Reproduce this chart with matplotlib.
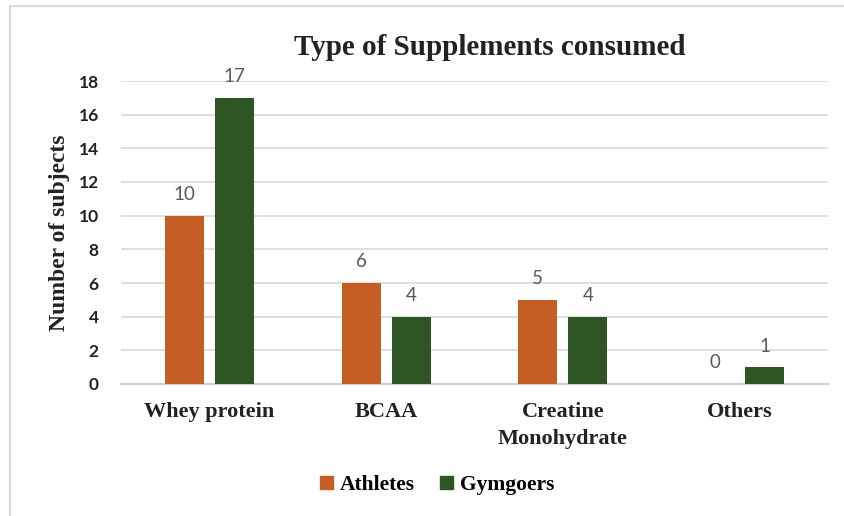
import matplotlib.pyplot as plt
from matplotlib.patches import Rectangle, Patch
import numpy as np

# data
categories = ['Whey protein', 'BCAA', 'Creatine\nMonohydrate', 'Others']
athletes = [10, 6, 5, 0]
gymgoers = [17, 4, 4, 1]
y_ticks = [0, 2, 4, 6, 8, 10, 12, 14, 16, 18]

orange = '#C55E24'
green = '#2E5625'
serif = 'Liberation Serif'
sans = 'Lato'

fig = plt.figure(figsize=(8.44, 5.16), dpi=100)

# light frame of the chart area (only top and left edges show)
fig.patches.append(Rectangle((10 / 844, -0.1), 1.2, 1 - 6 / 516 + 0.1,
                             transform=fig.transFigure, fill=False,
                             edgecolor='#D9D9D9', lw=1.5))

ax = fig.add_axes([121 / 844, 1 - 384 / 516, 707 / 844, 303 / 516])

x = np.arange(len(categories))
w = 0.22
off = 0.1415
b1 = ax.bar(x - off, athletes, w, color=orange, zorder=3)
b2 = ax.bar(x + off, gymgoers, w, color=green, zorder=3)

for bars, vals in ((b1, athletes), (b2, gymgoers)):
    for b, v in zip(bars, vals):
        ax.text(b.get_x() + b.get_width() / 2, v + 0.75, str(v),
                ha='center', va='bottom', fontsize=13.5, color='#595959',
                family=sans, clip_on=False)

ax.set_xlim(-0.5, len(categories) - 0.5)
ax.set_ylim(0, 18)
ax.set_yticks(y_ticks)
ax.set_yticklabels([str(t) for t in y_ticks], fontsize=12.5, fontweight='bold',
                   family=sans, color='#222222')
ax.set_xticks(x)
ax.set_xticklabels(categories, fontsize=16, fontweight='bold', family=serif,
                   color='#222222', linespacing=1.45)
ax.tick_params(axis='y', length=0, pad=16)
ax.tick_params(axis='x', length=0, pad=13)

ax.grid(axis='y', color='#D9D9D9', lw=1.2, zorder=0)
for s in ('top', 'right', 'left'):
    ax.spines[s].set_visible(False)
ax.spines['bottom'].set_color('#D0D0D0')
ax.spines['bottom'].set_linewidth(1.5)

ax.set_ylabel('Number of subjects', fontsize=17, fontweight='bold', family=serif,
              color='#222222', labelpad=6)

fig.text(490 / 844, 1 - 48 / 516, 'Type of Supplements consumed', ha='center',
         va='center', fontsize=21, fontweight='bold', family=serif, color='#222222')

handles = [Patch(color=orange, label='Athletes'), Patch(color=green, label='Gymgoers')]
fig.legend(handles=handles, loc='center', bbox_to_anchor=(437 / 844, 1 - 485 / 516),
           ncol=2, frameon=False, handlelength=0.6, handleheight=0.6,
           handletextpad=0.3, columnspacing=1.2,
           prop={'family': serif, 'weight': 'bold', 'size': 15.5})

fig.savefig('out.png', dpi=100)
